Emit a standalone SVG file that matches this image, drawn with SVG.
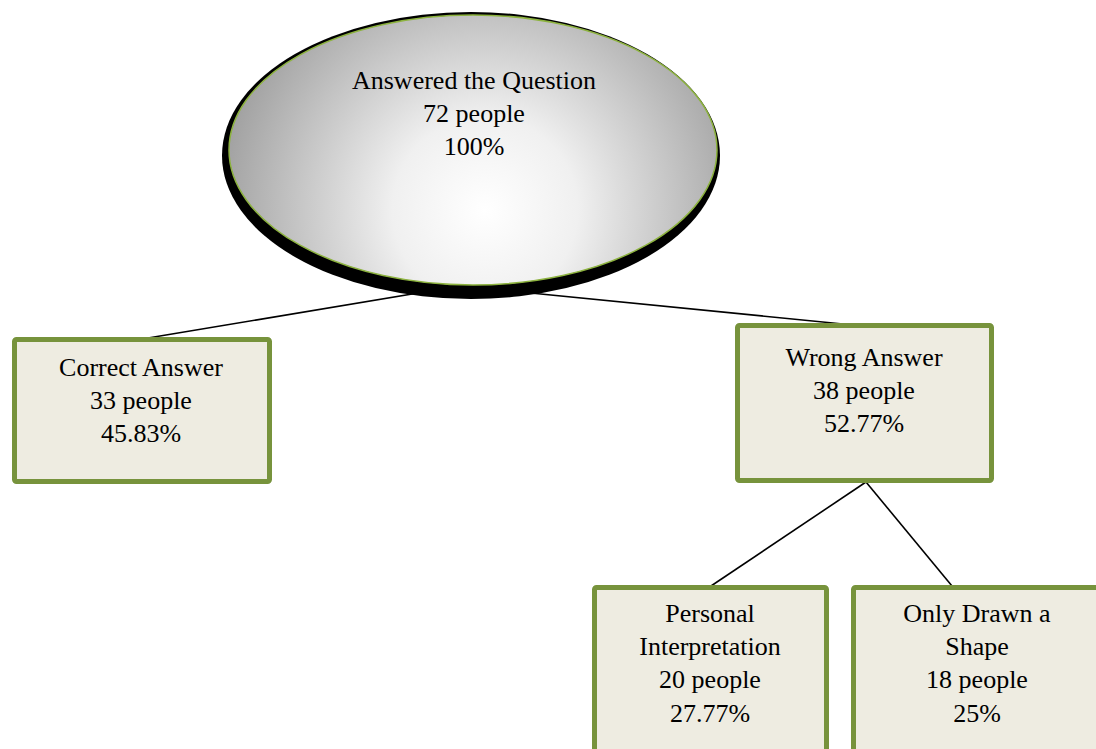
<svg xmlns="http://www.w3.org/2000/svg" width="1096" height="749" viewBox="0 0 1096 749">
<defs>
<radialGradient id="g" gradientUnits="userSpaceOnUse" cx="485" cy="210" r="265">
<stop offset="0" stop-color="#ffffff"/>
<stop offset="0.35" stop-color="#f0f0f0"/>
<stop offset="1" stop-color="#a2a2a2"/>
</radialGradient>
<style>
.box{fill:#eeece1;stroke:#77933c;stroke-width:5}
.t{font-family:"Liberation Serif","Times New Roman",serif;font-size:26px;fill:#000;text-anchor:middle}
.c{stroke:#000;stroke-width:1.6;fill:none}
</style>
</defs>
<rect width="1096" height="749" fill="#fff"/>
<g id="connectors">
<line class="c" x1="460" y1="286" x2="148" y2="338"/>
<line class="c" x1="460" y1="286" x2="853" y2="325"/>
<line class="c" x1="866" y1="482" x2="711" y2="586"/>
<line class="c" x1="866" y1="482" x2="952" y2="586"/>
</g>
<g id="root">
<ellipse cx="471" cy="155.5" rx="249" ry="143.5" fill="#000"/>
<ellipse cx="473" cy="150" rx="244" ry="135" fill="url(#g)" stroke="#8db33f" stroke-width="1.5"/>
<text class="t" x="474" y="89">Answered the Question</text>
<text class="t" x="474" y="122">72 people</text>
<text class="t" x="474" y="155">100%</text>
</g>
<g id="correct">
<rect class="box" x="14.5" y="339.5" width="255" height="142" rx="2"/>
<text class="t" x="141" y="376">Correct Answer</text>
<text class="t" x="141" y="409">33 people</text>
<text class="t" x="141" y="442">45.83%</text>
</g>
<g id="wrong">
<rect class="box" x="737.5" y="325.5" width="254" height="155" rx="2"/>
<text class="t" x="864" y="366">Wrong Answer</text>
<text class="t" x="864" y="399">38 people</text>
<text class="t" x="864" y="432">52.77%</text>
</g>
<g id="personal">
<rect class="box" x="594.5" y="587.5" width="232" height="180" rx="2"/>
<text class="t" x="710" y="622">Personal</text>
<text class="t" x="710" y="655">Interpretation</text>
<text class="t" x="710" y="688">20 people</text>
<text class="t" x="710" y="722">27.77%</text>
</g>
<g id="shape">
<rect class="box" x="853.5" y="587.5" width="250" height="180" rx="2"/>
<text class="t" x="977" y="622">Only Drawn a</text>
<text class="t" x="977" y="655">Shape</text>
<text class="t" x="977" y="688">18 people</text>
<text class="t" x="977" y="722">25%</text>
</g>
</svg>
